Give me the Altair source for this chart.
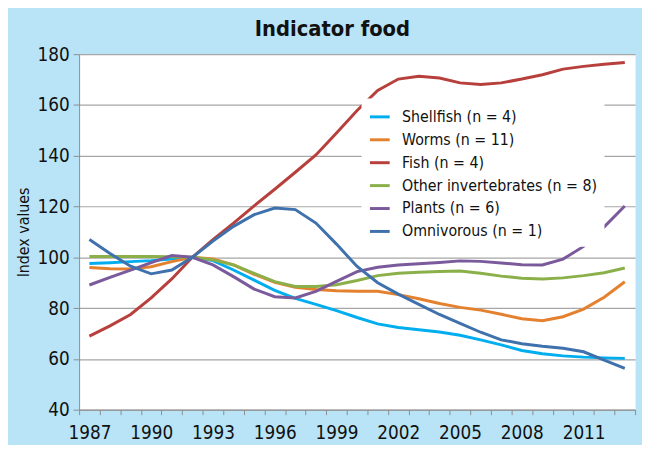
import altair as alt
import pandas as pd

years = list(range(1987, 2014))

series_names = [
    "Shellfish (n = 4)",
    "Worms (n = 11)",
    "Fish (n = 4)",
    "Other invertebrates (n = 8)",
    "Plants (n = 6)",
    "Omnivorous (n = 1)",
]
series_colors = ["#00aeef", "#e4812f", "#b8403c", "#8bb04a", "#7b5a9c", "#3f71ad"]

shellfish = [97.6, 97.9, 98.3, 98.7, 99.3, 100, 98.7, 95, 91, 87, 83.8, 81.5, 79, 76.3,
             73.8, 72.4, 71.5, 70.6, 69.3, 67.5, 65.5, 63.3, 62, 61.2, 60.7, 60.4, 60.2]
worms = [96, 95.5, 95.4, 96.3, 98.3, 100, 99.4, 97, 93.3, 90.2, 88.2, 87.3, 86.8, 86.6,
         86.6, 85.3, 83.7, 81.8, 80.3, 79.2, 77.6, 75.8, 75, 76.6, 79.6, 84.3, 90.4]
fish = [69, 73, 77.5, 84, 91.5, 100, 107, 113.5, 120.3, 126.8, 133.5, 140.3, 149, 157.8,
        165.7, 170.2, 171.3, 170.6, 168.7, 168.1, 168.7, 170.2, 171.9, 174.1, 175.2, 176, 176.7]
other_inv = [100.3, 100.3, 100.3, 100.3, 100.2, 100, 99, 97, 93.7, 90.4, 88.5, 88.5, 89.2, 90.9,
             92.8, 93.7, 94.1, 94.4, 94.6, 93.7, 92.6, 91.8, 91.5, 91.9, 92.8, 93.9, 95.8]
plants = [89.1, 92.1, 95, 97.9, 100.7, 100, 97, 92.4, 87.5, 84.5, 84, 86.6, 90.5, 94.4,
          96.1, 97, 97.5, 98, 98.6, 98.4, 97.8, 97.1, 97, 99.3, 104.3, 112, 120.2]
omnivorous = [107, 101.5, 96.5, 93.5, 95, 100, 106.4, 112.2, 116.8, 119.4, 118.8, 113.5, 105.2, 96.4,
              90, 85.5, 81.5, 77.5, 74, 70.5, 67.5, 66, 65, 64.2, 62.8, 59.5, 56.3]

y_ticks = [40, 60, 80, 100, 120, 140, 160, 180]
x_label_years = [1987, 1990, 1993, 1996, 1999, 2002, 2005, 2008, 2011]

all_values = [shellfish, worms, fish, other_inv, plants, omnivorous]
rows = []
for name, vals in zip(series_names, all_values):
    for yr, v in zip(years, vals):
        rows.append({"year": yr, "value": v, "series": name})
df = pd.DataFrame(rows)

tick_positions = [y - 0.5 for y in years] + [years[-1] + 0.5]

W, H = 563, 360
band = W / len(years)

FONT = "DejaVu Sans Condensed"

chart = alt.Chart(df).mark_line(strokeWidth=3).encode(
    x=alt.X(
        "year:Q",
        scale=alt.Scale(domain=[years[0] - 0.5, years[-1] + 0.5], nice=False, zero=False),
        axis=alt.Axis(
            title=None,
            values=tick_positions,
            labelExpr="indexof(" + str(x_label_years) + ", datum.value + 0.5) >= 0 ? format(datum.value + 0.5, 'd') : ''",
            labelOffset=band / 2,
            labelFlush=False,
            labelOverlap=False,
            labelBound=False,
            grid=False,
            tickSize=5,
            labelPadding=9,
            domainColor="#8c8c8c",
            tickColor="#8c8c8c",
            labelFont=FONT,
            labelFontSize=19,
            labelColor="#111111",
        ),
    ),
    y=alt.Y(
        "value:Q",
        scale=alt.Scale(domain=[40, 180], nice=False, zero=False),
        axis=alt.Axis(
            title="Index values",
            values=y_ticks,
            grid=True,
            gridColor="#a6a6a6",
            gridWidth=1.2,
            tickSize=6,
            labelPadding=4,
            domainColor="#8c8c8c",
            tickColor="#8c8c8c",
            labelFont=FONT,
            labelFontSize=19,
            labelColor="#111111",
            titleFont=FONT,
            titleFontSize=16,
            titleFontWeight="normal",
            titleColor="#111111",
            titlePadding=6,
        ),
    ),
    color=alt.Color(
        "series:N",
        scale=alt.Scale(domain=series_names, range=series_colors),
        legend=alt.Legend(
            title=None,
            orient="none",
            legendX=286,
            legendY=45,
            fillColor="white",
            padding=7,
            symbolType="stroke",
            symbolSize=400,
            symbolStrokeWidth=3,
            labelFont=FONT,
            labelFontSize=16,
            labelColor="#111111",
            labelOffset=11,
            labelLimit=400,
            rowPadding=3.2,
        ),
    ),
    order=alt.Order("year:Q"),
).properties(
    width=W,
    height=H,
    title=alt.TitleParams(
        "Indicator food",
        font=FONT,
        fontSize=22,
        fontWeight="bold",
        color="#111111",
        anchor="middle",
        frame="group",
        dx=-25,
        offset=4,
    ),
    autosize=alt.AutoSizeParams(type="none"),
    padding={"left": 72, "top": 44, "right": 7, "bottom": 33},
    background="#b9e4f7",
).configure_view(
    fill="white",
    stroke="transparent",
)

chart.save("out.html", embed_options={"renderer": "svg", "actions": False})
